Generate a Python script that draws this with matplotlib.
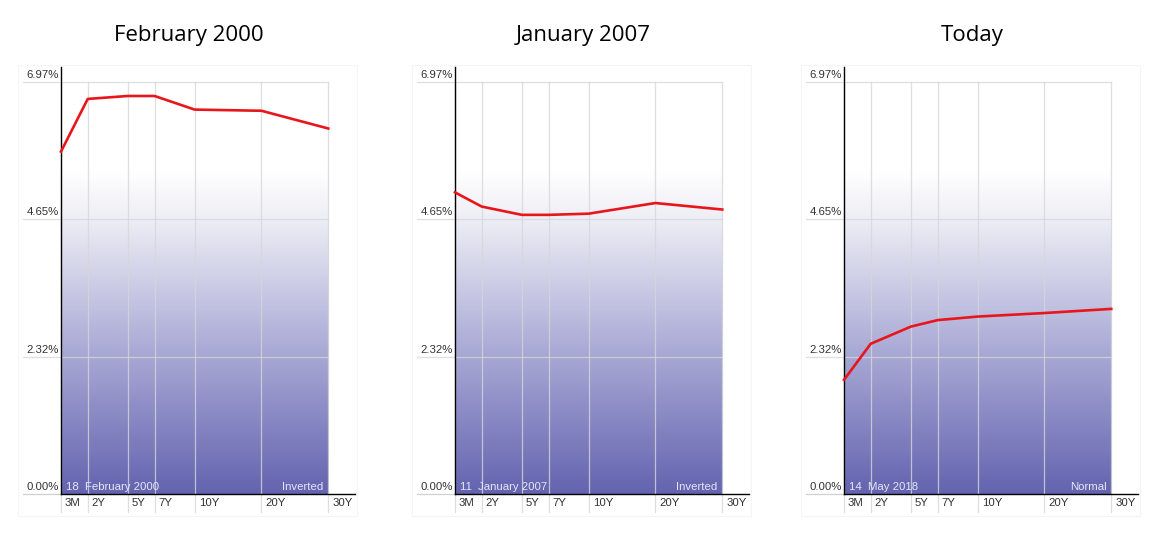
import matplotlib.pyplot as plt
import numpy as np
from matplotlib.colors import LinearSegmentedColormap
from matplotlib.patches import Rectangle

# yield curves (percent)
maturities = ["3M", "2Y", "5Y", "7Y", "10Y", "20Y", "30Y"]
maturity_pos = [0, 0.4, 1.0, 1.4, 2.0, 3.0, 4.0]
feb_2000 = [5.79, 6.68, 6.73, 6.73, 6.50, 6.48, 6.18]
jan_2007 = [5.10, 4.86, 4.72, 4.72, 4.74, 4.92, 4.81]
may_2018 = [1.93, 2.54, 2.83, 2.94, 3.00, 3.06, 3.13]
y_ticks = [0.0, 2.32, 4.65, 6.97]

titles = ["February 2000", "January 2007", "Today"]
dates = ["18  February 2000", "11  January 2007", "14  May 2018"]
shapes = ["Inverted", "Inverted", "Normal"]
curves = [feb_2000, jan_2007, may_2018]

W, H = 1164, 550
fig = plt.figure(figsize=(W / 100, H / 100), dpi=100)
fig.patch.set_facecolor("white")

lefts_px = [61, 455, 844]
ax_w, ax_bot, ax_top = 294, 494, 67
XMAX, YMAX = 4.4, 7.22
grad_top = 5.45

cmap = LinearSegmentedColormap.from_list(
    "curve_bg", [(0.0, (0.39, 0.39, 0.69)), (0.45, (0.67, 0.67, 0.84)),
                 (0.85, (0.93, 0.93, 0.96)), (1.0, (1.0, 1.0, 1.0))])

for left, title, date, shape, curve in zip(lefts_px, titles, dates, shapes, curves):
    ax = fig.add_axes([left / W, (H - ax_bot) / H, ax_w / W, (ax_bot - ax_top) / H])
    ax.set_xlim(0, XMAX)
    ax.set_ylim(0, YMAX)
    ax.set_axis_off()

    xpx = XMAX / ax_w          # data units per pixel
    ypx = YMAX / (ax_bot - ax_top)

    # faint panel frame
    ax.add_patch(Rectangle((-43 * xpx, -22 * ypx), XMAX + 45 * xpx, YMAX + 24 * ypx,
                           fill=False, ec="#f5f5f5", lw=0.8, clip_on=False, zorder=0))

    # background gradient
    grad = np.linspace(0, 1, 256).reshape(-1, 1)
    ax.imshow(grad, cmap=cmap, aspect="auto", origin="lower",
              extent=[0, maturity_pos[-1], 0, grad_top], zorder=1)

    # horizontal gridlines
    for t in y_ticks[1:]:
        ax.plot([-38 * xpx, maturity_pos[-1]], [t, t], color=(0.84, 0.84, 0.86),
                alpha=0.8, lw=0.9, clip_on=False, zorder=2)
    ax.plot([-38 * xpx, 0], [0, 0], color="#d0d0d0", lw=0.9, clip_on=False, zorder=2)

    # vertical gridlines (extend below the axis as label separators)
    for p in maturity_pos:
        ax.plot([p, p], [-18 * ypx, y_ticks[-1]], color=(0.84, 0.84, 0.86),
                alpha=0.8, lw=0.9, clip_on=False, zorder=2)

    # axes
    ax.plot([0, 0], [0, YMAX], color="black", lw=1.0, zorder=4, clip_on=False)
    ax.plot([0, XMAX], [0, 0], color="black", lw=1.0, zorder=4, clip_on=False)

    # tick labels
    for t in y_ticks:
        ax.text(-2 * xpx, t + 2 * ypx, f"{t:.2f}%", ha="right", va="bottom",
                fontsize=8.2, color="#333333", family="Liberation Sans")
    for p, lab in zip(maturity_pos, maturities):
        ax.text(p + 4 * xpx, -9 * ypx, lab, ha="left", va="center",
                fontsize=8.2, color="#333333", family="Liberation Sans", clip_on=False)

    # curve
    ax.plot(maturity_pos, curve, color="#e8161b", lw=1.9, zorder=5,
            solid_joinstyle="round", clip_on=False)

    ax.text(5 * xpx, 7 * ypx, date, ha="left", va="center", fontsize=8.2,
            color=(0.9, 0.9, 0.97), family="Liberation Sans", zorder=6)
    ax.text(maturity_pos[-1] - 5 * xpx, 7 * ypx, shape, ha="right", va="center",
            fontsize=8.2, color=(0.9, 0.9, 0.97), family="Liberation Sans", zorder=6)

    fig.text((left - 38 + ax_w / 2 + 19) / W, 1 - 36 / H, title, ha="center", va="center",
             fontsize=16, family="Open Sans", color="black")

fig.savefig("out.png", dpi=100, facecolor="white")
